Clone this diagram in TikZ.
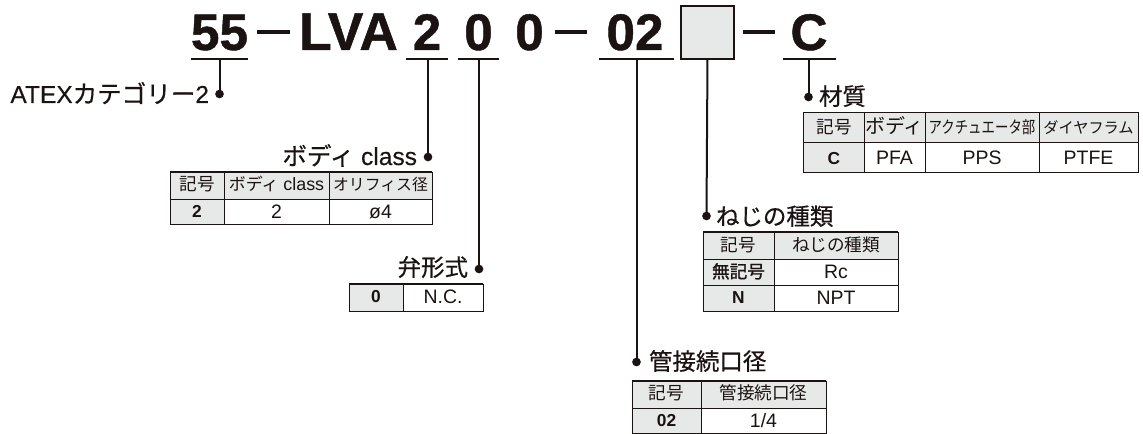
\documentclass[tikz,border=0pt]{standalone}
\usepackage{fontspec}
\setmainfont{Liberation Sans}
\newfontfamily\cjk{Noto Sans CJK JP}
\newfontfamily\cjkn[FakeStretch=0.8]{Noto Sans CJK JP}
\newfontfamily\cjkb[FakeBold=0.5]{Noto Sans CJK JP}
\newfontfamily\cjkbb[FakeBold=1.4]{Noto Sans CJK JP}
\newfontfamily\latb[FakeBold=0.25]{Liberation Sans}
\newfontfamily\titlef[FakeBold=0.9]{Liberation Sans Bold}
\definecolor{cellgray}{HTML}{E7E9E8}
\definecolor{inkk}{HTML}{1A1311}
\newcommand{\cf}{\fontsize{13.2}{15}\selectfont\cjk}
\tikzset{
  x=0.75pt,y=-0.75pt,
  every node/.style={inner sep=0pt,outer sep=0pt,text=inkk},
  bigtxt/.style={font=\fontsize{38.5}{40}\selectfont\titlef,anchor=base},
  head/.style={font=\fontsize{17.6}{20}\selectfont\cjkb,anchor=base},
  headl/.style={font=\fontsize{18.4}{20}\selectfont\latb,anchor=base east},
  cellt/.style={font=\fontsize{14.6}{16}\selectfont,anchor=base},
  cellj/.style={font=\cf,anchor=base},
  cellb/.style={font=\fontsize{13}{15}\selectfont\bfseries,anchor=base},
  ul/.style={draw=inkk,line width=1.5pt},
  lead/.style={draw=inkk,line width=1.5pt},
  bigdash/.style={draw=inkk,line width=2.3pt},
  dot/.style={circle,fill=inkk,minimum size=6.5pt},
  tab/.style={draw=inkk,line width=0.6pt},
  tabtop/.style={draw=inkk,line width=1.1pt},
  hdrfill/.style={fill=cellgray},
}
\begin{document}
\begin{tikzpicture}
\useasboundingbox (0,0) rectangle (1143,434);
\fill[white] (0,0) rectangle (1143,434);
% title
\node[bigtxt] (t55) at (219.5,50) {55};
\node[bigtxt,font=\fontsize{40}{42}\selectfont\titlef] (tlva) at (348.5,50) {LVA};
\node[bigtxt] (t2) at (427,50) {2};
\node[bigtxt] (t0a) at (478.5,50) {0};
\node[bigtxt] (t0b) at (529.5,50) {0};
\node[bigtxt] (t02) at (635,50) {02};
\node[bigtxt] (tc) at (809,50) {C};
\node[draw=inkk,line width=1.5pt,fill=cellgray,minimum width=53pt*0.75,minimum height=53pt*0.75] (box) at (707.5,32.5) {};
\coordinate (d1a) at (257,32); \coordinate (d1b) at (290,32);
\coordinate (d2a) at (555,32); \coordinate (d2b) at (587,32);
\coordinate (d3a) at (743,32); \coordinate (d3b) at (775,32);
\draw[bigdash] (d1a)--(d1b);
\draw[bigdash] (d2a)--(d2b);
\draw[bigdash] (d3a)--(d3b);
% underlines
\coordinate (u1a) at (191,59); \coordinate (u1b) at (248,59); \coordinate (u1) at (219.5,59);
\coordinate (u2a) at (406,59); \coordinate (u2b) at (448,59); \coordinate (u2) at (428,59);
\coordinate (u3a) at (458,59); \coordinate (u3b) at (499,59); \coordinate (u3) at (479,59);
\coordinate (u4a) at (599,59); \coordinate (u4b) at (674,59); \coordinate (u4) at (636.5,59);
\coordinate (u6a) at (783,59); \coordinate (u6b) at (836,59); \coordinate (u6) at (808.5,59);
\draw[ul] (u1a)--(u1b);
\draw[ul] (u2a)--(u2b);
\draw[ul] (u3a)--(u3b);
\draw[ul] (u4a)--(u4b);
\draw[ul] (u6a)--(u6b);
% dots
\node[dot] (p1) at (219.5,94) {};
\node[dot] (p2) at (428,157) {};
\node[dot] (p3) at (479,269) {};
\node[dot] (p4) at (636.5,362) {};
\node[dot] (p5) at (706.5,216) {};
\node[dot] (p6) at (808.5,97) {};
\draw[lead] (u1)--(p1.center);
\draw[lead] (u2)--(p2.center);
\draw[lead] (u3)--(p3.center);
\draw[lead] (u4)--(p4.center);
\draw[lead] (box.south)--(p5.center);
\draw[lead] (u6)--(p6.center);
% labels
\node[headl] (l1) at (209,103) {ATEX{\cjkb カテゴリー}2};
\node[headl] (l2) at (417,165) {{\cjkb ボディ} class};
\node[head,anchor=base east] (l3) at (468,276) {弁形式};
\node[head,anchor=base west] (l4) at (649,370) {管接続口径};
\node[head,anchor=base west] (l5) at (716,225) {ねじの種類};
\node[head,anchor=base west] (l6) at (819,105) {材質};
% table: body class
\fill[hdrfill] (170,172) rectangle (224,224);
\fill[hdrfill] (224,172) rectangle (432,199);
\draw[tab] (170,172) rectangle (432,224);
\draw[tab] (170,199)--(432,199) (224,172)--(224,224) (329,172)--(329,224);
\draw[tabtop] (170,172)--(432,172);
\node[cellj] (b1) at (197,191) {記号};
\node[cellt,font=\fontsize{13.4}{15}\selectfont] (b2) at (276.5,191) {{\fontsize{12.7}{15}\selectfont\cjk ボディ} class};
\node[cellj,font=\fontsize{11.9}{15}\selectfont\cjk] (b3) at (380.5,191) {オリフィス径};
\node[cellb] (b4) at (197,218) {2};
\node[cellt] (b5) at (276.5,219) {2};
\node[cellt] (b6) at (380.5,219) {ø4};
% table: valve
\fill[hdrfill] (349,284) rectangle (403,311);
\draw[tab] (349,284) rectangle (483,311);
\draw[tab] (403,284)--(403,311);
\draw[tabtop] (349,284)--(483,284);
\node[cellb] (v1) at (376,303) {0};
\node[cellt] (v2) at (443,304) {N.C.};
% table: thread
\fill[hdrfill] (703,232) rectangle (774,311);
\fill[hdrfill] (774,232) rectangle (898,259);
\draw[tab] (703,232) rectangle (898,311);
\draw[tab] (703,259)--(898,259) (703,285)--(898,285) (774,232)--(774,311);
\draw[tabtop] (703,232)--(898,232);
\node[cellj] (s1) at (738.5,252) {記号};
\node[cellj] (s2) at (836,252) {ねじの種類};
\node[cellb,font=\fontsize{13.2}{15}\selectfont\cjkbb] (s3) at (738.5,278) {無記号};
\node[cellt] (s4) at (836,279) {Rc};
\node[cellb] (s5) at (738.5,304) {N};
\node[cellt] (s6) at (836,305) {NPT};
% table: port
\fill[hdrfill] (632,381) rectangle (701,433);
\fill[hdrfill] (701,381) rectangle (826,408);
\draw[tab] (632,381) rectangle (826,433);
\draw[tab] (632,408)--(826,408) (701,381)--(701,433);
\draw[tabtop] (632,381)--(826,381);
\node[cellj] (q1) at (666.5,400) {記号};
\node[cellj] (q2) at (763.5,400) {管接続口径};
\node[cellb] (q3) at (666.5,427) {02};
\node[cellt] (q4) at (763.5,428) {1/4};
% table: material
\fill[hdrfill] (803,112.5) rectangle (864,172);
\fill[hdrfill] (864,112.5) rectangle (1138,142);
\draw[tab] (803,112.5) rectangle (1138,172);
\draw[tab] (803,142)--(1138,142) (864,112.5)--(864,172) (925,112.5)--(925,172) (1039,112.5)--(1039,172);
\draw[tabtop] (803,112.5)--(1138,112.5);
\node[cellj] (m1) at (834,134) {記号};
\node[cellj,font=\fontsize{15}{15}\selectfont\cjk] (m2) at (894.5,134) {ボディ};
\node[cellj,font=\fontsize{12.6}{15}\selectfont\cjkn] (m3) at (982,134) {アクチュエータ部};
\node[cellj,font=\fontsize{11.4}{15}\selectfont\cjk] (m4) at (1088.5,134) {ダイヤフラム};
\node[cellb] (m5) at (834,165) {C};
\node[cellt] (m6) at (894.5,165) {PFA};
\node[cellt] (m7) at (982,165) {PPS};
\node[cellt] (m8) at (1088.5,165) {PTFE};
\end{tikzpicture}
\end{document}
